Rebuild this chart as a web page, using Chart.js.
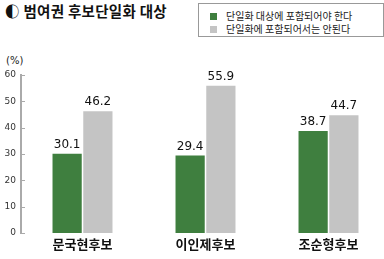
<!DOCTYPE html>
<html>
<head>
<meta charset="utf-8">
<script src="https://cdn.jsdelivr.net/npm/chart.js@4"></script>
<style>
html,body{margin:0;padding:0;overflow:hidden;background:#fff;width:384px;height:259px;}
#wrap{position:absolute;left:0;top:0;width:392px;height:259px;}
#title{position:absolute;left:5px;top:0px;font:bold 14.5px "Noto Sans CJK KR",sans-serif;color:#111;letter-spacing:0.3px;}
#legend{position:absolute;left:198px;top:3px;width:186px;height:34px;border:1px solid #999;box-sizing:border-box;font:10px "Noto Sans CJK KR",sans-serif;color:#222;}
.item{position:absolute;left:11px;height:12px;line-height:12px;}
.sw{display:inline-block;width:7px;height:7px;margin-right:9px;vertical-align:0px;}
#unit{position:absolute;left:6px;top:55px;font:10px "DejaVu Sans",sans-serif;color:#222;}
</style>
</head>
<body>
<div id="title">◐ 범여권 후보단일화 대상</div>
<div id="legend">
  <div class="item" style="top:6px"><span class="sw" style="background:#3f7f3f"></span>단일화 대상에 포함되어야 한다</div>
  <div class="item" style="top:19px"><span class="sw" style="background:#c4c4c4"></span>단일화에 포함되어서는 안된다</div>
</div>
<div id="unit">(%)</div>
<div id="wrap"><canvas id="chart" width="392" height="259"></canvas></div>
<script>
// data
const candidates=['문국현후보','이인제후보','조순형후보'];
const shouldInclude=[30.1,29.4,38.7];
const shouldNotInclude=[46.2,55.9,44.7];
const yTicks=[0,10,20,30,40,50,60];

const green='#3f7f3f';
const grey='#c4c4c4';

//labels above the bars
const valueLabels={
    id:'valueLabels',
    afterDatasetsDraw(chart){
        const c=chart.ctx;
        c.save();
        c.font='12px "DejaVu Sans",sans-serif';
        c.fillStyle='#111';
        c.textAlign='center';
        c.textBaseline='bottom';
        chart.data.datasets.forEach(function(ds,i){
            chart.getDatasetMeta(i).data.forEach(function(bar,j){
                c.fillText(ds.data[j].toFixed(1),bar.x,bar.y-3);
            });
        });
        c.restore();
    }
};

//small tick marks on the right side of the y axis
const innerTicks={
    id:'innerTicks',
    afterDraw(chart){
        const c=chart.ctx;
        const y=chart.scales.y;
        c.save();
        c.strokeStyle='#aaa';
        c.lineWidth=1;
        yTicks.forEach(function(v){
            const py=Math.round(y.getPixelForValue(v))+0.5;
            c.beginPath();
            c.moveTo(y.right,py);
            c.lineTo(y.right+4,py);
            c.stroke();
        });
        c.restore();
    }
};

const ctx=document.getElementById('chart').getContext('2d');
const myChart=new Chart(ctx,{
    type:'bar',
    data:{
        labels:candidates,
        datasets:[
            {label:'단일화 대상에 포함되어야 한다',data:shouldInclude,backgroundColor:green},
            {label:'단일화에 포함되어서는 안된다',data:shouldNotInclude,backgroundColor:grey}
        ]
    },
    options:{
        responsive:false,
        animation:false,
        layout:{padding:{top:75,left:0,right:2,bottom:0}},
        categoryPercentage:0.5,
        barPercentage:0.95,
        plugins:{legend:{display:false},tooltip:{enabled:false}},
        scales:{
            x:{
                grid:{display:false,drawTicks:false},
                border:{display:false},
                ticks:{
                    color:'#111',
                    padding:3,
                    font:{family:'"Noto Sans CJK KR",sans-serif',size:13,weight:'bold'}
                },
                afterFit:function(s){s.height=26;}
            },
            y:{
                min:0,max:60,
                grid:{display:false,drawTicks:false},
                border:{display:true,color:'#aaa',width:2},
                ticks:{
                    stepSize:10,
                    padding:5,
                    color:'#333',
                    font:{family:'"DejaVu Sans",sans-serif',size:9}
                },
                afterFit:function(s){s.width=21;}
            }
        }
    },
    plugins:[valueLabels,innerTicks]
});
</script>
</body>
</html>
